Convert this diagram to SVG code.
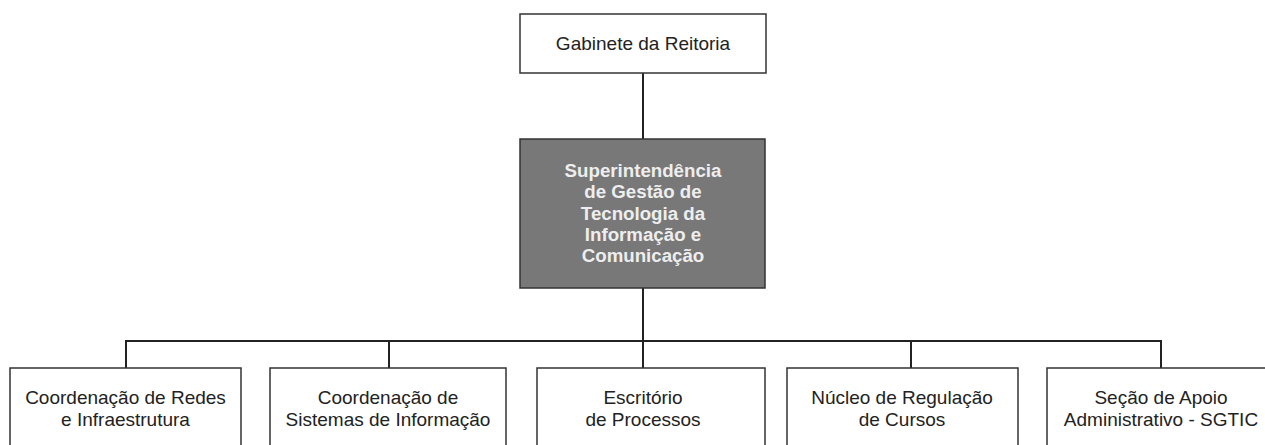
<svg xmlns="http://www.w3.org/2000/svg" width="1265" height="445" viewBox="0 0 1265 445">
<style>
.box{fill:#ffffff;stroke:#333333;stroke-width:1.5}
.dark{fill:#787878;stroke:#333333;stroke-width:1.5}
.t{font-family:"Liberation Sans",Arial,sans-serif;font-size:19px;fill:#222222;text-anchor:middle}
.tw{font-family:"Liberation Sans",Arial,sans-serif;font-size:18.7px;font-weight:bold;fill:#eeeeee;text-anchor:middle}
.c{fill:none;stroke:#222222;stroke-width:2}
</style>
<rect width="1265" height="445" fill="#ffffff"/>
<g id="connectors">
<path class="c" d="M643 73V139"/>
<path class="c" d="M643 288V341"/>
<path class="c" d="M126 368V341H1161V368"/>
<path class="c" d="M389 341V368"/>
<path class="c" d="M643 341V368"/>
<path class="c" d="M911 341V368"/>
</g>
<g id="gabinete">
<rect class="box" x="520" y="14" width="246" height="59"/>
<text class="t" x="643" y="50">Gabinete da Reitoria</text>
</g>
<g id="superintendencia">
<rect class="dark" x="520" y="139" width="245" height="149"/>
<text class="tw" x="643" y="177">Superintendência</text>
<text class="tw" x="643" y="198">de Gestão de</text>
<text class="tw" x="643" y="219.5">Tecnologia da</text>
<text class="tw" x="643" y="241">Informação e</text>
<text class="tw" x="643" y="262">Comunicação</text>
</g>
<g id="redes">
<rect class="box" x="10" y="368" width="231" height="90"/>
<text class="t" x="125.5" y="404">Coordenação de Redes</text>
<text class="t" x="125.5" y="426">e Infraestrutura</text>
</g>
<g id="sistemas">
<rect class="box" x="270" y="368" width="236" height="90"/>
<text class="t" x="388" y="404">Coordenação de</text>
<text class="t" x="388" y="426">Sistemas de Informação</text>
</g>
<g id="escritorio">
<rect class="box" x="537" y="368" width="228" height="90"/>
<text class="t" x="643" y="404">Escritório</text>
<text class="t" x="643" y="426">de Processos</text>
</g>
<g id="nucleo">
<rect class="box" x="787" y="368" width="231" height="90"/>
<text class="t" x="902" y="404">Núcleo de Regulação</text>
<text class="t" x="902" y="426">de Cursos</text>
</g>
<g id="secao">
<rect class="box" x="1047" y="368" width="230" height="90"/>
<text class="t" x="1161" y="404">Seção de Apoio</text>
<text class="t" x="1161" y="426">Administrativo - SGTIC</text>
</g>
</svg>
